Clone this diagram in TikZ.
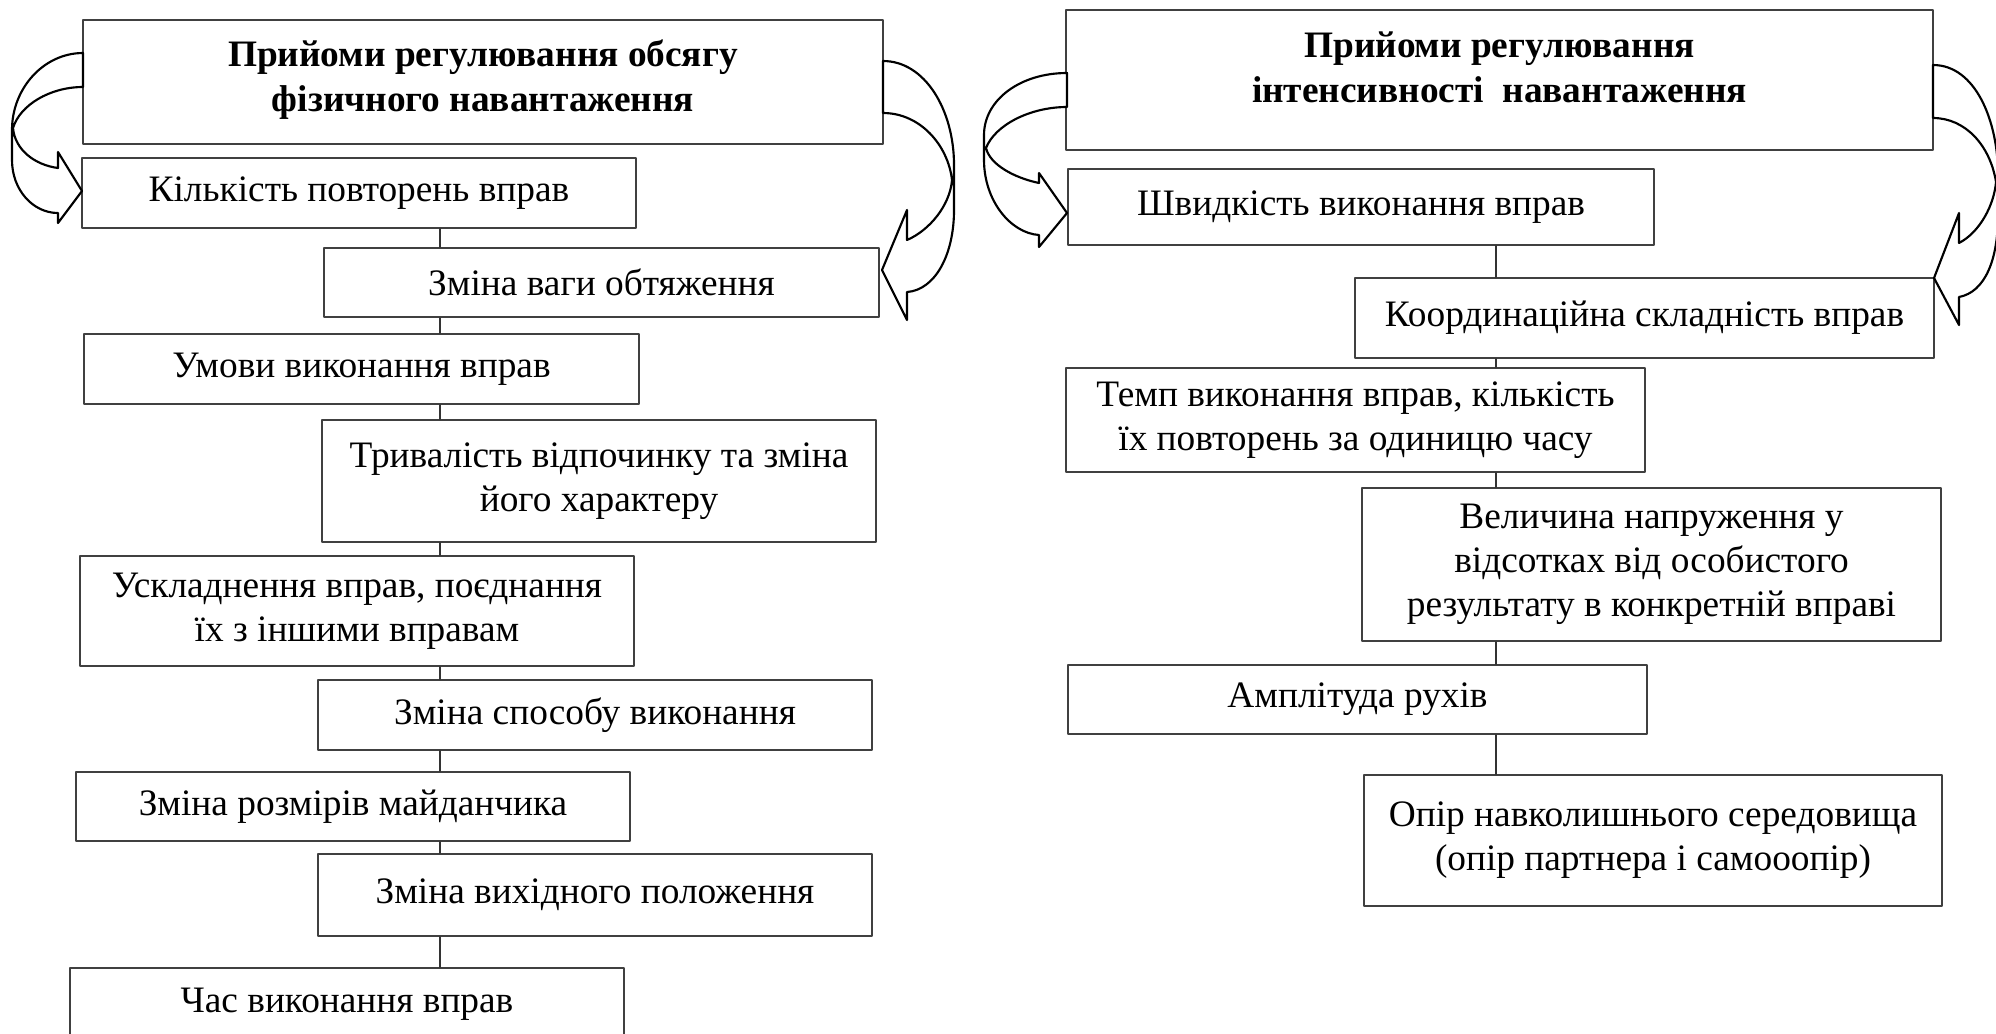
\documentclass[tikz,border=0pt]{standalone}
\usepackage{fontspec}
\setmainfont{Liberation Serif}
\begin{document}
\begin{tikzpicture}[x=0.375pt, y=-0.375pt, line join=round, line cap=round,
		font=\fontsize{14}{16.5}\selectfont,
		box/.style={draw=black!75, line width=0.7pt, align=center, inner sep=2pt},
		head/.style={box, font=\fontsize{14}{16.8}\selectfont\bfseries},
		lnk/.style={draw=black!80, line width=0.7pt},
		blk/.style={draw=black, line width=0.8pt, fill=white}]
		\def\wl{208pt} \def\wr{217pt}
		\useasboundingbox (0,0) rectangle (1996,1033);
		% left column
		\node[head, minimum width=300pt, minimum height=46.5pt] (lt) at (483,82) {Прийоми регулювання обсягу\\фізичного навантаження\\[-12pt]\mbox{}};
		\node[box, minimum width=\wl, minimum height=26.25pt] (l1) at (359,193) {Кількість повторень вправ};
		\node[box, minimum width=\wl, minimum height=25.9pt] (l2) at (601.5,282.5) {Зміна ваги обтяження};
		\node[box, minimum width=\wl, minimum height=26.25pt] (l3) at (361.5,369) {Умови виконання вправ};
		\node[box, minimum width=\wl, minimum height=45.75pt] (l4) at (599,481) {Тривалість відпочинку та зміна\\його характеру};
		\node[box, minimum width=\wl, minimum height=41.25pt] (l5) at (357,611) {Ускладнення вправ, поєднання\\їх з іншими вправам};
		\node[box, minimum width=\wl, minimum height=26.25pt] (l6) at (595,715) {Зміна способу виконання};
		\node[box, minimum width=\wl, minimum height=25.9pt] (l7) at (353,806.5) {Зміна розмірів майданчика};
		\node[box, minimum width=\wl, minimum height=30.75pt] (l8) at (595,895) {Зміна вихідного положення};
		\node[box, minimum width=\wl, minimum height=27pt] (l9) at (347,1004) {Час виконання вправ};
		% right column
		\node[head, minimum width=325pt, minimum height=52.5pt] (rt) at (1499.5,80) {Прийоми регулювання\\інтенсивності\ \ навантаження\\[-7pt]\mbox{}};
		\node[box, minimum width=219.75pt, minimum height=28.5pt] (r1) at (1361,207) {Швидкість виконання вправ};
		\node[box, minimum width=\wr, minimum height=30pt] (r2) at (1644.5,318) {Координаційна складність вправ};
		\node[box, minimum width=\wr, minimum height=39pt] (r3) at (1355.5,420) {Темп виконання вправ, кількість\\їх повторень за одиницю часу};
		\node[box, minimum width=\wr, minimum height=57.4pt] (r4) at (1651.5,564.5) {Величина напруження у\\відсотках від особистого\\результату в конкретній вправі};
		\node[box, minimum width=\wr, minimum height=25.9pt] (r5) at (1357.5,699.5) {Амплітуда рухів};
		\node[box, minimum width=\wr, minimum height=49.1pt] (r6) at (1653,840.5) {Опір навколишнього середовища\\(опір партнера і самооопір)};
		% vertical links
		\coordinate (lx) at (440,0);
		\coordinate (rx) at (1496,0);
		\foreach \a/\b in {l1/l2,l2/l3,l3/l4,l4/l5,l5/l6,l6/l7,l7/l8,l8/l9}
		\draw[lnk] (\a.south -| lx) -- (\b.north -| lx);
		\foreach \a/\b in {r1/r2,r2/r3,r3/r4,r4/r5,r5/r6}
		\draw[lnk] (\a.south -| rx) -- (\b.north -| rx);
		% curved block arrows
		\draw[blk] (83,53) .. controls (44,53) and (12,88) .. (12,130) -- (12,160)
		.. controls (12,190) and (33,213) .. (58,213) -- (58,223) -- (82,191) -- (58,152) -- (58,168)
		.. controls (35,165) and (15,150) .. (13,128) .. controls (20,105) and (50,87) .. (83,87) -- cycle;
		\draw[blk] (883,61) .. controls (925,61) and (954,110) .. (954,165) -- (954,210)
		.. controls (954,255) and (935,290) .. (907,292) -- (907,320) -- (882,270) -- (907,210) -- (907,240)
		.. controls (930,230) and (950,205) .. (952,180) .. controls (948,145) and (920,113) .. (883,113) -- cycle;
		\draw[blk] (1067,73) .. controls (1020,73) and (984,100) .. (984,135) -- (984,160)
		.. controls (984,200) and (1010,233) .. (1039,235) -- (1039,247) -- (1067,213) -- (1039,173) -- (1039,183)
		.. controls (1015,178) and (990,165) .. (986,148) .. controls (995,125) and (1030,107) .. (1067,107) -- cycle;
		\draw[blk] (1933,65) .. controls (1975,65) and (1998,120) .. (1998,175) -- (1998,215)
		.. controls (1998,260) and (1985,292) .. (1959,297) -- (1959,325) -- (1934,278) -- (1959,213) -- (1959,243)
		.. controls (1980,232) and (1994,205) .. (1996,182) .. controls (1990,145) and (1965,118) .. (1933,118) -- cycle;
	\end{tikzpicture}
\end{document}
